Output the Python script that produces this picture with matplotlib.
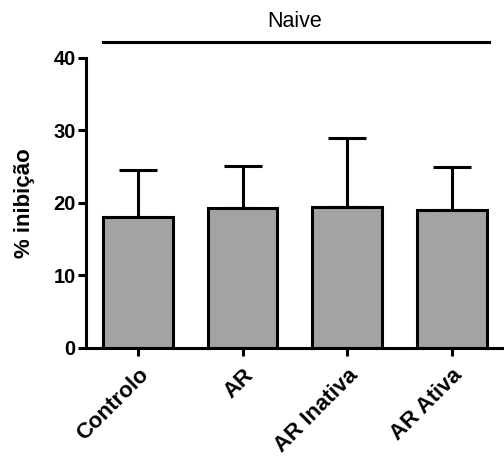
import matplotlib.pyplot as plt

plt.rcParams['font.family'] = ['Liberation Sans', 'DejaVu Sans']

grupos = ["Controlo", "AR", "AR Inativa", "AR Ativa"]
medias = [18.1, 19.3, 19.4, 19.0]
erros = [6.5, 5.8, 9.6, 5.9]
titulo_grupo = "Naive"

fig = plt.figure(figsize=(5.04, 4.59), dpi=100)
ax = fig.add_axes([0.171, 0.242, 0.829, 0.632])

x = range(len(grupos))
ax.bar(x, medias, width=0.667, color='#a3a3a6', edgecolor='black', linewidth=2.2, zorder=2)
ax.errorbar(x, medias, yerr=[[0] * len(erros), erros], fmt='none', ecolor='black',
            elinewidth=2.2, capsize=14, capthick=2.2, zorder=1)

ax.set_xlim(-0.495, 3.5)
ax.set_ylim(0, 40)
ax.set_yticks([0, 10, 20, 30, 40])
ax.set_xticks(list(x))
ax.set_xticklabels(grupos, rotation=45, ha='right', rotation_mode='anchor',
                   fontsize=16, fontweight='bold')
for lbl in ax.get_yticklabels():
    lbl.set_fontsize(14.5)
    lbl.set_fontweight('bold')
ax.set_ylabel("% inibição", fontsize=16, fontweight='bold', labelpad=13)

ax.spines['top'].set_visible(False)
ax.spines['right'].set_visible(False)
ax.spines['left'].set_linewidth(2.2)
ax.spines['bottom'].set_linewidth(2.2)
ax.tick_params(axis='y', width=2.2, length=6, pad=1.5)
ax.tick_params(axis='x', width=2.2, length=6, pad=6)

# linha do grupo
ax.plot([-0.333, 3.36], [42.2, 42.2], color='black', linewidth=2.2, clip_on=False)
ax.text(1.5, 44.2, titulo_grupo, ha='center', va='baseline', fontsize=15.5)

fig.savefig("out.png", dpi=100)
